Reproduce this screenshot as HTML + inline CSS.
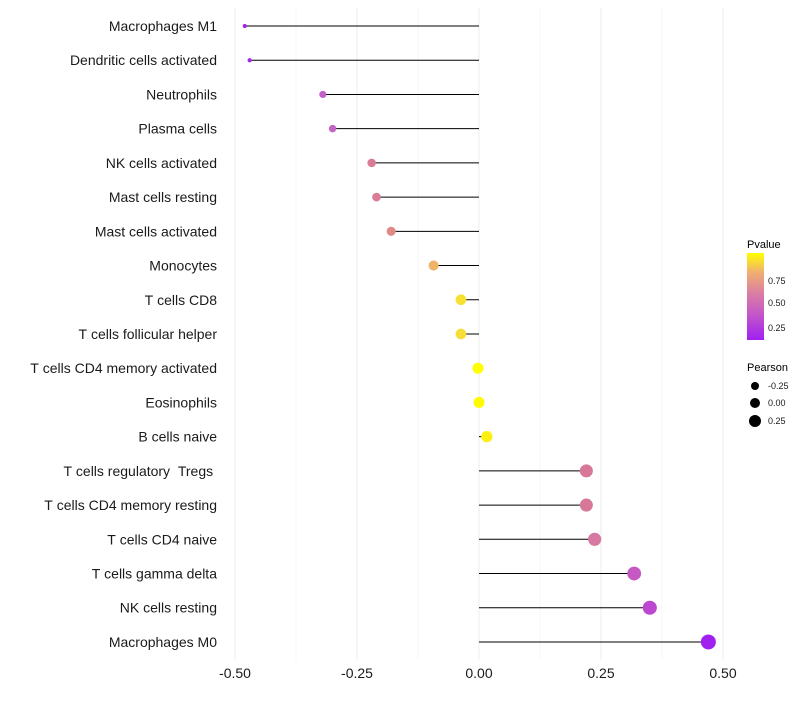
<!DOCTYPE html><html><head><style>body{margin:0;background:#fff}</style></head><body>
<svg width="800" height="700" xmlns="http://www.w3.org/2000/svg" font-family="Liberation Sans, sans-serif">
<defs><linearGradient id="g" x1="0" y1="1" x2="0" y2="0">
<stop offset="0" stop-color="#a020f0"/><stop offset="0.3" stop-color="#c458c8"/><stop offset="0.55" stop-color="#dc80a0"/><stop offset="0.78" stop-color="#f0b070"/><stop offset="1" stop-color="#ffff00"/></linearGradient></defs>
<g stroke="#f2f2f2" stroke-width="0.6"><line x1="296" y1="8" x2="296" y2="660"/><line x1="418" y1="8" x2="418" y2="660"/><line x1="540" y1="8" x2="540" y2="660"/><line x1="662" y1="8" x2="662" y2="660"/></g>
<g stroke="#ededed" stroke-width="1.1"><line x1="235" y1="8" x2="235" y2="660"/><line x1="357" y1="8" x2="357" y2="660"/><line x1="479" y1="8" x2="479" y2="660"/><line x1="601" y1="8" x2="601" y2="660"/><line x1="723" y1="8" x2="723" y2="660"/></g>
<g id="d"></g>
<g font-size="14" fill="#1a1a1a" text-anchor="middle"><text x="235" y="678">-0.50</text><text x="357" y="678">-0.25</text><text x="479" y="678">0.00</text><text x="601" y="678">0.25</text><text x="723" y="678">0.50</text></g>
<text x="747" y="248" font-size="11">Pvalue</text>
<rect x="747" y="253" width="17" height="87" fill="url(#g)"/>
<g font-size="9" fill="#1a1a1a"><text x="768" y="284">0.75</text><text x="768" y="306">0.50</text><text x="768" y="331">0.25</text></g>
<text x="747" y="371" font-size="11">Pearson</text>
<circle cx="755" cy="386" r="4"/><circle cx="755" cy="403" r="5"/><circle cx="755" cy="421" r="6"/>
<g font-size="9" fill="#1a1a1a"><text x="768" y="389">-0.25</text><text x="768" y="406">0.00</text><text x="768" y="424">0.25</text></g>
</svg>
<script>
var d=[["Macrophages M1",-0.48,"#a020f0"],["Dendritic cells activated",-0.47,"#a428ec"],["Neutrophils",-0.32,"#c060c8"],["Plasma cells",-0.30,"#c464c4"],["NK cells activated",-0.22,"#d87c98"],["Mast cells resting",-0.21,"#da7e98"],["Mast cells activated",-0.18,"#e08a88"],["Monocytes",-0.093,"#f0b468"],["T cells CD8",-0.037,"#f8e030"],["T cells follicular helper",-0.037,"#f8dc38"],["T cells CD4 memory activated",-0.002,"#ffff00"],["Eosinophils",0.0,"#fffc00"],["B cells naive",0.016,"#fcf010"],["T cells regulatory  Tregs ",0.22,"#d87898"],["T cells CD4 memory resting",0.22,"#d87898"],["T cells CD4 naive",0.237,"#d678a0"],["T cells gamma delta",0.318,"#c658c4"],["NK cells resting",0.35,"#bc48d0"],["Macrophages M0",0.47,"#a020f0"]];
var s="";
d.forEach(function(r,i){var y=26+i*34.22,x=479+r[1]*488,rad=Math.sqrt(4+(r[1]+0.48)*55);
s+='<line x1="'+x+'" y1="'+y+'" x2="479" y2="'+y+'" stroke="#000" stroke-width="1"/>';
s+='<circle cx="'+x+'" cy="'+y+'" r="'+rad+'" fill="'+r[2]+'"/>';
s+='<text x="217" y="'+(y+5)+'" font-size="14" text-anchor="end" fill="#1a1a1a">'+r[0].replace(/ /g,"&#160;")+'</text>';});
document.getElementById("d").innerHTML=s;
</script>
</body></html>
